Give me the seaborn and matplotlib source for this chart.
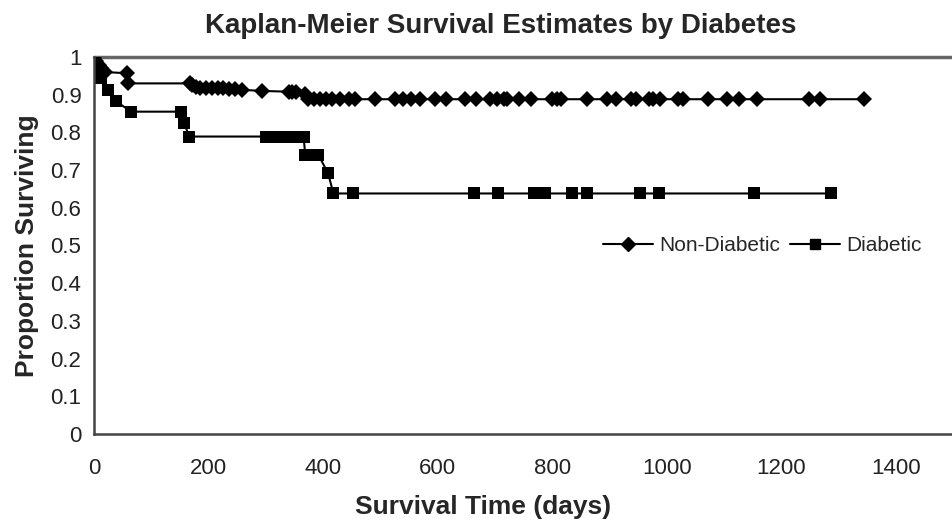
import numpy as np
import pandas as pd
import matplotlib
matplotlib.use("Agg")
import matplotlib.pyplot as plt
import seaborn as sns
from matplotlib.lines import Line2D

# survival points (days, proportion surviving)
t_nondiab = [0, 4, 8, 12, 20, 57, 59, 168, 172, 178, 186, 196, 206, 216, 226,
             236, 246, 258, 293, 340, 346, 352, 369, 374, 385, 395, 405, 415,
             430, 445, 456, 490, 525, 540, 553, 570, 596, 615, 648, 667, 692,
             703, 716, 721, 742, 763, 799, 808, 816, 861, 896, 912, 938, 946,
             969, 977, 989, 1019, 1028, 1073, 1105, 1127, 1158, 1248, 1267, 1345]
s_nondiab = [1.0, 0.99, 0.98, 0.97, 0.96, 0.957, 0.93, 0.93, 0.925, 0.92,
             0.918, 0.917, 0.917, 0.917, 0.917, 0.916, 0.915, 0.913, 0.91,
             0.908, 0.908, 0.907, 0.903] + [0.888] * 43

t_diab = [0, 2, 7, 13, 25, 39, 65, 152, 158, 166, 300, 310, 320, 330, 345, 366,
          369, 380, 392, 409, 418, 452, 663, 705, 768, 778, 788, 834, 861, 953,
          986, 1152, 1287]
s_diab = [1.0, 0.987, 0.97, 0.943, 0.912, 0.882, 0.855, 0.855, 0.824, 0.789,
          0.789, 0.789, 0.789, 0.789, 0.789, 0.789, 0.74, 0.74, 0.74, 0.691,
          0.638, 0.638, 0.638, 0.638, 0.638, 0.638, 0.638, 0.638, 0.638, 0.638,
          0.638, 0.638, 0.638]

groups = ["Non-Diabetic", "Diabetic"]
x_ticks = [0, 200, 400, 600, 800, 1000, 1200, 1400]
y_ticks = [0, 0.1, 0.2, 0.3, 0.4, 0.5, 0.6, 0.7, 0.8, 0.9, 1]

df = pd.concat([
    pd.DataFrame({"days": t_nondiab, "surv": s_nondiab, "group": groups[0]}),
    pd.DataFrame({"days": t_diab, "surv": s_diab, "group": groups[1]}),
], ignore_index=True)

sns.set_style("white")
plt.rcParams["font.family"] = ["Liberation Sans", "DejaVu Sans"]

fig = plt.figure(figsize=(9.53, 5.21), dpi=100)
ax = fig.add_axes([0.0986, 0.167, 0.9014, 0.7236])

sns.lineplot(data=df, x="days", y="surv", hue="group", style="group",
             markers={"Non-Diabetic": "D", "Diabetic": "s"}, dashes=False,
             palette={"Non-Diabetic": "black", "Diabetic": "black"},
             estimator=None, sort=False, linewidth=1.5, markersize=9,
             markeredgewidth=0, legend=False, ax=ax)
for ln in ax.lines:
    if ln.get_marker() == "D":
        ln.set_markersize(8)

ax.axhline(1, color="#666666", lw=2.5, clip_on=False, zorder=1)

ax.set_xlim(0, 1500)
ax.set_ylim(0, 1)
ax.set_xticks(x_ticks)
ax.set_yticks(y_ticks)
ax.set_yticklabels([f"{v:g}" for v in y_ticks])
ax.tick_params(axis="both", direction="out", length=5, width=1.2,
               color="#333333", labelsize=16, labelcolor="#222222", pad=4)
ax.tick_params(axis="x", pad=12)

for side in ["top", "right"]:
    ax.spines[side].set_visible(False)
for side in ["left", "bottom"]:
    ax.spines[side].set_color("#444444")
    ax.spines[side].set_linewidth(1.8)

ax.set_xlabel("Survival Time (days)", fontsize=19, fontweight="bold")
ax.xaxis.set_label_coords(0.453, -0.162)
ax.set_ylabel("Proportion Surviving", fontsize=19, fontweight="bold", labelpad=8)
fig.suptitle("Kaplan-Meier Survival Estimates by Diabetes", fontsize=20,
             fontweight="bold", x=0.525, y=0.975)

handles = [Line2D([], [], color="black", marker="D", markersize=7, lw=1.5),
           Line2D([], [], color="black", marker="s", markersize=7, lw=1.5)]
ax.legend(handles, groups, loc="center", bbox_to_anchor=(0.778, 0.50), ncol=2,
          frameon=False, fontsize=15, handlelength=2.4, columnspacing=0.5,
          handletextpad=0.3, borderpad=0.1)

fig.savefig("out.png", dpi=100)
